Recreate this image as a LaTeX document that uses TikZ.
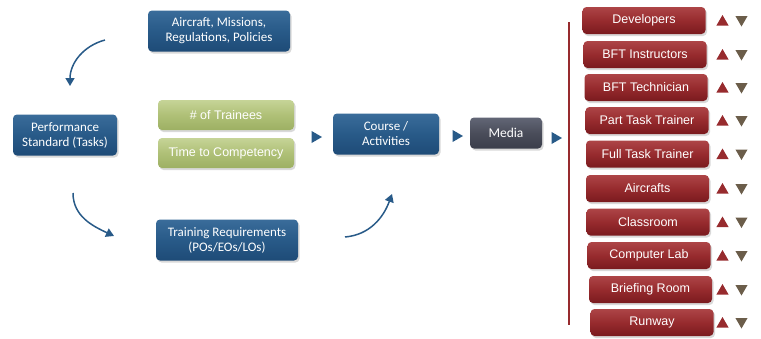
\documentclass[tikz,border=0pt]{standalone}
\usepackage{fontspec}
\setmainfont{Carlito}
\newfontfamily\arialfont{Liberation Sans}
\usetikzlibrary{shapes.geometric,shadows,arrows.meta}
\definecolor{boxblue}{HTML}{1E4B77}
\definecolor{boxbluemid}{HTML}{285A88}
\definecolor{boxbluetop}{HTML}{3A6C9A}
\definecolor{boxgreen}{HTML}{9DB063}
\definecolor{boxgreenmid}{HTML}{AFC077}
\definecolor{boxgreentop}{HTML}{C6D497}
\definecolor{boxslate}{HTML}{3B3E4A}
\definecolor{boxslatemid}{HTML}{4A4D5A}
\definecolor{boxslatetop}{HTML}{626676}
\definecolor{boxred}{HTML}{7A1A1E}
\definecolor{boxredmid}{HTML}{972B2E}
\definecolor{boxredtop}{HTML}{AD4547}
\definecolor{tribrown}{HTML}{6B5D4A}
\begin{document}
\begin{tikzpicture}[x=1pt, y=1pt,
		box/.style = {rounded corners = 4pt, inner sep = 2pt, align = center, text = white,
			drop shadow = {shadow xshift = 1.5pt, shadow yshift = -2pt, opacity = .3}},
		bluebox/.style = {box, top color = boxbluetop, bottom color = boxblue, middle color = boxbluemid,
			font = \fontsize{13}{15}\selectfont},
		greenbox/.style = {box, top color = boxgreentop, bottom color = boxgreen, middle color = boxgreenmid,
			minimum width = 136pt, minimum height = 30pt, font = \arialfont\fontsize{12.5}{15}\selectfont},
		slatebox/.style = {box, top color = boxslatetop, bottom color = boxslate, middle color = boxslatemid,
			font = \fontsize{13.5}{15}\selectfont},
		redbox/.style = {box, top color = boxredtop, bottom color = boxred, middle color = boxredmid,
			minimum width = 123pt, minimum height = 27pt, font = \arialfont\fontsize{12.5}{15}\selectfont},
		flow/.style = {regular polygon, regular polygon sides = 3, shape border rotate = 270, minimum size = 14pt,
			inner sep = 0pt, fill = boxbluemid},
		uptri/.style = {regular polygon, regular polygon sides = 3, minimum size = 14pt, inner sep = 0pt, fill = boxredmid},
		downtri/.style = {uptri, shape border rotate = 180, fill = tribrown},
		curvearrow/.style = {draw = boxbluemid, line width = 1.5pt, -{Triangle[width = 9pt, length = 8pt]}}
	]
	\useasboundingbox (0,0) rectangle (761,-338);

	% left part
	\node[bluebox, minimum width = 104pt, minimum height = 41pt] (perf) at (65,-135) {Performance\\Standard (Tasks)};
	\node[bluebox, minimum width = 142pt, minimum height = 41pt] (acft) at (219,-31) {Aircraft, Missions,\\Regulations, Policies};
	\node[greenbox] (train) at (226,-115) {\# of Trainees};
	\node[greenbox] (time) at (226,-153) {Time to Competency};
	\node[bluebox, minimum width = 142pt, minimum height = 41pt] (req) at (227,-240) {Training Requirements\\(POs/EOs/LOs)};
	\node[bluebox, minimum width = 106pt, minimum height = 41pt] (course) at (386,-134) {Course /\\Activities};
	\node[slatebox, minimum width = 72pt, minimum height = 31pt] (media) at (506,-133) {Media};

	\node[flow] (fa) at (315,-137) {};
	\node[flow] (fb) at (456,-136) {};
	\node[flow] (fc) at (555,-138) {};

	\coordinate (a1) at (105,-40);
	\coordinate (a2) at (70,-86);
	\coordinate (b1) at (73,-193);
	\coordinate (b2) at (114,-236);
	\coordinate (c1) at (345,-237);
	\coordinate (c2) at (392,-194);
	\draw[curvearrow] (a1) to[out = 195, in = 90] (a2);
	\draw[curvearrow] (b1) to[out = 270, in = 155] (b2);
	\draw[curvearrow] (c1) to[out = 5, in = 250] (c2);

	% media list
	\coordinate (ltop) at (569,-22);
	\coordinate (lbot) at (569,-325);
	\draw[boxredmid, line width = 1.3pt] (ltop) -- (lbot);

	\node[redbox] (dev) at (644,-20.5) {Developers};
	\node[redbox] (inst) at (645,-54.5) {BFT Instructors};
	\node[redbox] (tech) at (646,-87.5) {BFT Technician};
	\node[redbox] (ptt) at (647,-120.5) {Part Task Trainer};
	\node[redbox] (ftt) at (647.5,-154) {Full Task Trainer};
	\node[redbox] (air) at (647.5,-188.5) {Aircrafts};
	\node[redbox] (room) at (648,-222) {Classroom};
	\node[redbox] (lab) at (649,-255.5) {Computer Lab};
	\node[redbox] (brief) at (650.5,-289.5) {Briefing Room};
	\node[redbox] (rwy) at (652,-322.5) {Runway};

	\foreach \n in {dev, inst, tech, ptt, ftt, air, room, lab, brief, rwy} {
		\node[uptri, yshift = -1.5pt] (\n-up) at (722.5,0 |- \n.center) {};
		\node[downtri, yshift = 1pt] (\n-dn) at (741.5,0 |- \n.center) {};
	}
\end{tikzpicture}
\end{document}
